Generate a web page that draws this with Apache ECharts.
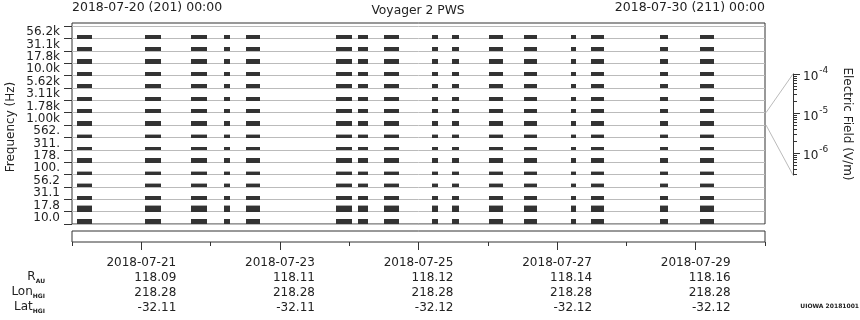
<!DOCTYPE html>
<html><head><meta charset="utf-8">
<script src="https://cdn.jsdelivr.net/npm/echarts@6/dist/echarts.min.js"></script>
<style>html,body{margin:0;padding:0;background:#fff}#c{width:860px;height:320px}</style>
</head><body><div id="c"></div>
<script>
// Frequency channels, bottom to top
const channels = ['10.0','17.8','31.1','56.2','100.','178.','311.','562.','1.00k','1.78k','3.11k','5.62k','10.0k','17.8k','31.1k','56.2k'];
// relative signal level per channel (fraction of channel strip)
const channelLevel = [0.40,0.43,0.30,0.24,0.22,0.30,0.24,0.19,0.30,0.30,0.30,0.30,0.30,0.30,0.30,0.30];
// faint upper fringe level per channel
const channelFringe = [0,0.08,0,0.08,0.08,0,0,0.10,0,0,0,0,0,0,0,0];
// data coverage intervals (tracking passes)
const passStart = ['2018-07-20 01:45','2018-07-21 01:17','2018-07-21 17:13','2018-07-22 04:38','2018-07-22 12:16','2018-07-23 19:26','2018-07-24 03:03','2018-07-24 12:03','2018-07-25 04:41','2018-07-25 11:36','2018-07-26 00:25','2018-07-26 12:32','2018-07-27 04:49','2018-07-27 11:44','2018-07-28 11:38','2018-07-29 01:29'];
const passEnd   = ['2018-07-20 06:55','2018-07-21 06:49','2018-07-21 22:45','2018-07-22 06:43','2018-07-22 17:06','2018-07-24 00:58','2018-07-24 06:31','2018-07-24 17:15','2018-07-25 06:45','2018-07-25 14:01','2018-07-26 05:16','2018-07-26 17:02','2018-07-27 06:33','2018-07-27 16:14','2018-07-28 14:25','2018-07-29 06:20'];
const timeMin = '2018-07-20 00:00';
const timeMax = '2018-07-30 00:00';
const dayTicks = ['2018-07-20','2018-07-21','2018-07-22','2018-07-23','2018-07-24','2018-07-25','2018-07-26','2018-07-27','2018-07-28','2018-07-29','2018-07-30'];
const labelDays = ['2018-07-21','2018-07-23','2018-07-25','2018-07-27','2018-07-29'];
const rAU = ['118.09','118.11','118.12','118.14','118.16'];
const lonHGI = ['218.28','218.28','218.28','218.28','218.28'];
const latHGI = ['-32.11','-32.11','-32.12','-32.12','-32.12'];
// colour bar (electric field, V/m)
const fieldMajor = [1e-6, 1e-5, 1e-4];
const fieldMin = 2.8e-7, fieldMax = 1e-4;

const T = s => +echarts.time.parse(s);
const lg = v => Math.log10(v);
const fieldMinor = [];
[-7,-6,-5].forEach(d => { for (let k = 2; k <= 9; k++) { const v = k * Math.pow(10, d); if (v >= fieldMin && v <= fieldMax) fieldMinor.push(lg(v)); } });

const barData = [];
passStart.forEach((s, p) => {
  channels.forEach((c, i) => {
    barData.push([T(s), T(passEnd[p]), i, channelLevel[i], channelFringe[i]]);
  });
});

const FONT = 'DejaVu Sans';
const TXT = '#222';
const chart = echarts.init(document.getElementById('c'), null, {renderer: 'canvas'});

chart.setOption({
  animation: false,
  backgroundColor: '#fff',
  textStyle: {fontFamily: FONT},
  grid: [
    {left: 72, right: 95, top: 26, bottom: 96, show: false},                    // 0 data
    {left: 72, right: 95, top: 231, height: 11, show: true, borderColor: '#333', borderWidth: 1, backgroundColor: 'transparent'}, // 1 time box
    {left: 72, right: 95, top: 23, bottom: 96, show: true, borderColor: '#333', borderWidth: 1, backgroundColor: 'transparent'},  // 2 frame
    {left: 72, right: 95, top: 231, height: 11, show: false},                  // 3 minor day ticks
    {left: 793, width: 1, top: 74, height: 101, show: false}                   // 4 colour bar
  ],
  xAxis: [
    {type: 'time', gridIndex: 0, min: T(timeMin), max: T(timeMax), show: false},
    {type: 'time', gridIndex: 1, min: T(timeMin), max: T(timeMax), position: 'bottom',
      axisLine: {show: false}, splitLine: {show: false},
      axisTick: {show: true, length: 8, customValues: labelDays.map(T), lineStyle: {color: '#333'}},
      axisLabel: {show: true, customValues: labelDays.map(T), formatter: '{yyyy}-{MM}-{dd}', margin: 15, fontSize: 12, color: TXT, fontFamily: FONT}},
    {type: 'value', gridIndex: 2, min: 0, max: 1, show: false},
    {type: 'time', gridIndex: 3, min: T(timeMin), max: T(timeMax), position: 'bottom',
      axisLine: {show: false}, splitLine: {show: false}, axisLabel: {show: false},
      axisTick: {show: true, length: 4, customValues: dayTicks.map(T), lineStyle: {color: '#333'}}},
    {type: 'value', gridIndex: 4, min: 0, max: 1, show: false},
    {type: 'value', gridIndex: 4, min: 0, max: 1, show: false, position: 'top'}
  ],
  yAxis: [
    {type: 'category', gridIndex: 0, data: channels, boundaryGap: true,
      axisLine: {show: false},
      axisTick: {show: true, length: 8, interval: 0, lineStyle: {color: '#333'}},
      axisLabel: {show: true, interval: 0, margin: 12, fontSize: 12, color: TXT, fontFamily: FONT},
      splitLine: {show: true, interval: 0, lineStyle: {color: '#bbb', width: 1}}},
    {type: 'value', gridIndex: 1, min: 0, max: 1, show: false},
    {type: 'value', gridIndex: 2, min: 0, max: 1, show: false},
    {type: 'value', gridIndex: 3, min: 0, max: 1, show: false},
    {type: 'value', gridIndex: 4, min: lg(fieldMin), max: lg(fieldMax), position: 'left',
      axisLine: {show: true, onZero: false, lineStyle: {color: '#333'}},
      splitLine: {show: false},
      axisTick: {show: true, inside: true, length: 7, customValues: fieldMajor.map(lg), lineStyle: {color: '#333'}},
      axisLabel: {show: true, inside: true, margin: 10, customValues: fieldMajor.map(lg),
        formatter: v => '{b|10}{s|' + Math.round(v) + '}',
        rich: {b: {fontSize: 12, color: TXT, fontFamily: FONT, padding: [6, 0, 0, 0]},
               s: {fontSize: 9, color: TXT, fontFamily: FONT, padding: [0, 0, 6, 1]}}}},
    {type: 'value', gridIndex: 4, min: lg(fieldMin), max: lg(fieldMax), position: 'left',
      axisLine: {show: false}, splitLine: {show: false}, axisLabel: {show: false},
      axisTick: {show: true, inside: true, length: 4, customValues: fieldMinor, lineStyle: {color: '#333'}}}
  ],
  series: [{
    type: 'custom',
    xAxisIndex: 0, yAxisIndex: 0,
    clip: true,
    encode: {x: [0, 1], y: 2},
    data: barData,
    renderItem: function (params, api) {
      const p0 = api.coord([api.value(0), api.value(2)]);
      const p1 = api.coord([api.value(1), api.value(2)]);
      const bandH = api.size([0, 1])[1];
      const bottom = Math.round(p0[1] + bandH / 2 + 0.5);
      const top = Math.round(p0[1] + bandH / 2 - bandH * api.value(3));
      const x0 = Math.round(p0[0]), x1 = Math.round(p1[0]);
      const children = [{type: 'rect', shape: {x: x0, y: top, width: x1 - x0, height: bottom - top}, style: {fill: '#333'}}];
      const f = api.value(4);
      if (f > 0) {
        const ft = Math.round(top - bandH * f);
        children.push({type: 'rect', shape: {x: x0, y: ft, width: x1 - x0, height: top - ft}, style: {fill: '#aaa'}});
      }
      return {type: 'group', children: children};
    }
  }]
});

// decorations and ephemeris table positioned from the axes
const bandCenter = c => chart.convertToPixel({yAxisIndex: 0}, c);
const bandH = Math.abs(bandCenter('1.00k') - bandCenter('562.'));
const xRight = chart.convertToPixel({xAxisIndex: 0}, T(timeMax));
const cbTop = chart.convertToPixel({yAxisIndex: 4}, lg(fieldMax));
const cbBot = chart.convertToPixel({yAxisIndex: 4}, lg(fieldMin));
const cbX = 793;
const refC = bandCenter('1.00k');

const g = [];
g.push({type: 'line', shape: {x1: xRight + 1, y1: refC - bandH / 2, x2: cbX, y2: cbTop}, style: {stroke: '#bbb', lineWidth: 1}, silent: true});
g.push({type: 'line', shape: {x1: xRight + 1, y1: refC + bandH / 2, x2: cbX, y2: cbBot}, style: {stroke: '#bbb', lineWidth: 1}, silent: true});

const txt = (x, y, text, align, extra, size) => Object.assign({type: 'text', x: x, y: y, silent: true,
  style: {text: text, fill: TXT, font: (size || 12) + 'px "' + FONT + '"', align: align || 'left', verticalAlign: 'middle'}}, extra || {});

g.push(txt(72, 8, '2018-07-20 (201) 00:00', 'left', null, 12.5));
g.push(txt(765, 8, '2018-07-30 (211) 00:00', 'right', null, 12.5));
g.push(txt(418, 11, 'Voyager 2 PWS', 'center', null, 12.3));
g.push(txt(11, 127, 'Frequency (Hz)', 'center', {rotation: Math.PI / 2}));
g.push(txt(847, 124, 'Electric Field (V/m)', 'center', {rotation: -Math.PI / 2}));
g.push({type: 'text', x: 859, y: 306, silent: true, style: {text: 'UIOWA 20181001', fill: TXT, font: 'bold 6px "' + FONT + '"', align: 'right', verticalAlign: 'middle'}});

const rowY = [278, 293, 308];
const rowNames = [['R', 'AU'], ['Lon', 'HGI'], ['Lat', 'HGI']];
rowNames.forEach((r, k) => {
  g.push({type: 'text', x: 45, y: rowY[k], silent: true, style: {
    text: '{m|' + r[0] + '}{s|' + r[1] + '}', align: 'right', verticalAlign: 'middle',
    rich: {m: {fontSize: 12, fontFamily: FONT, fill: TXT, padding: [0, 0, 3, 0]},
           s: {fontSize: 6, fontWeight: 'bold', fontFamily: FONT, fill: TXT, padding: [7, 0, 0, 0]}}}});
});
const rows = [rAU, lonHGI, latHGI];
labelDays.forEach((d, i) => {
  const x = chart.convertToPixel({xAxisIndex: 1}, T(d));
  rows.forEach((arr, k) => g.push(txt(x + 35, rowY[k], arr[i], 'right')));
});
chart.setOption({graphic: g});
</script></body></html>
